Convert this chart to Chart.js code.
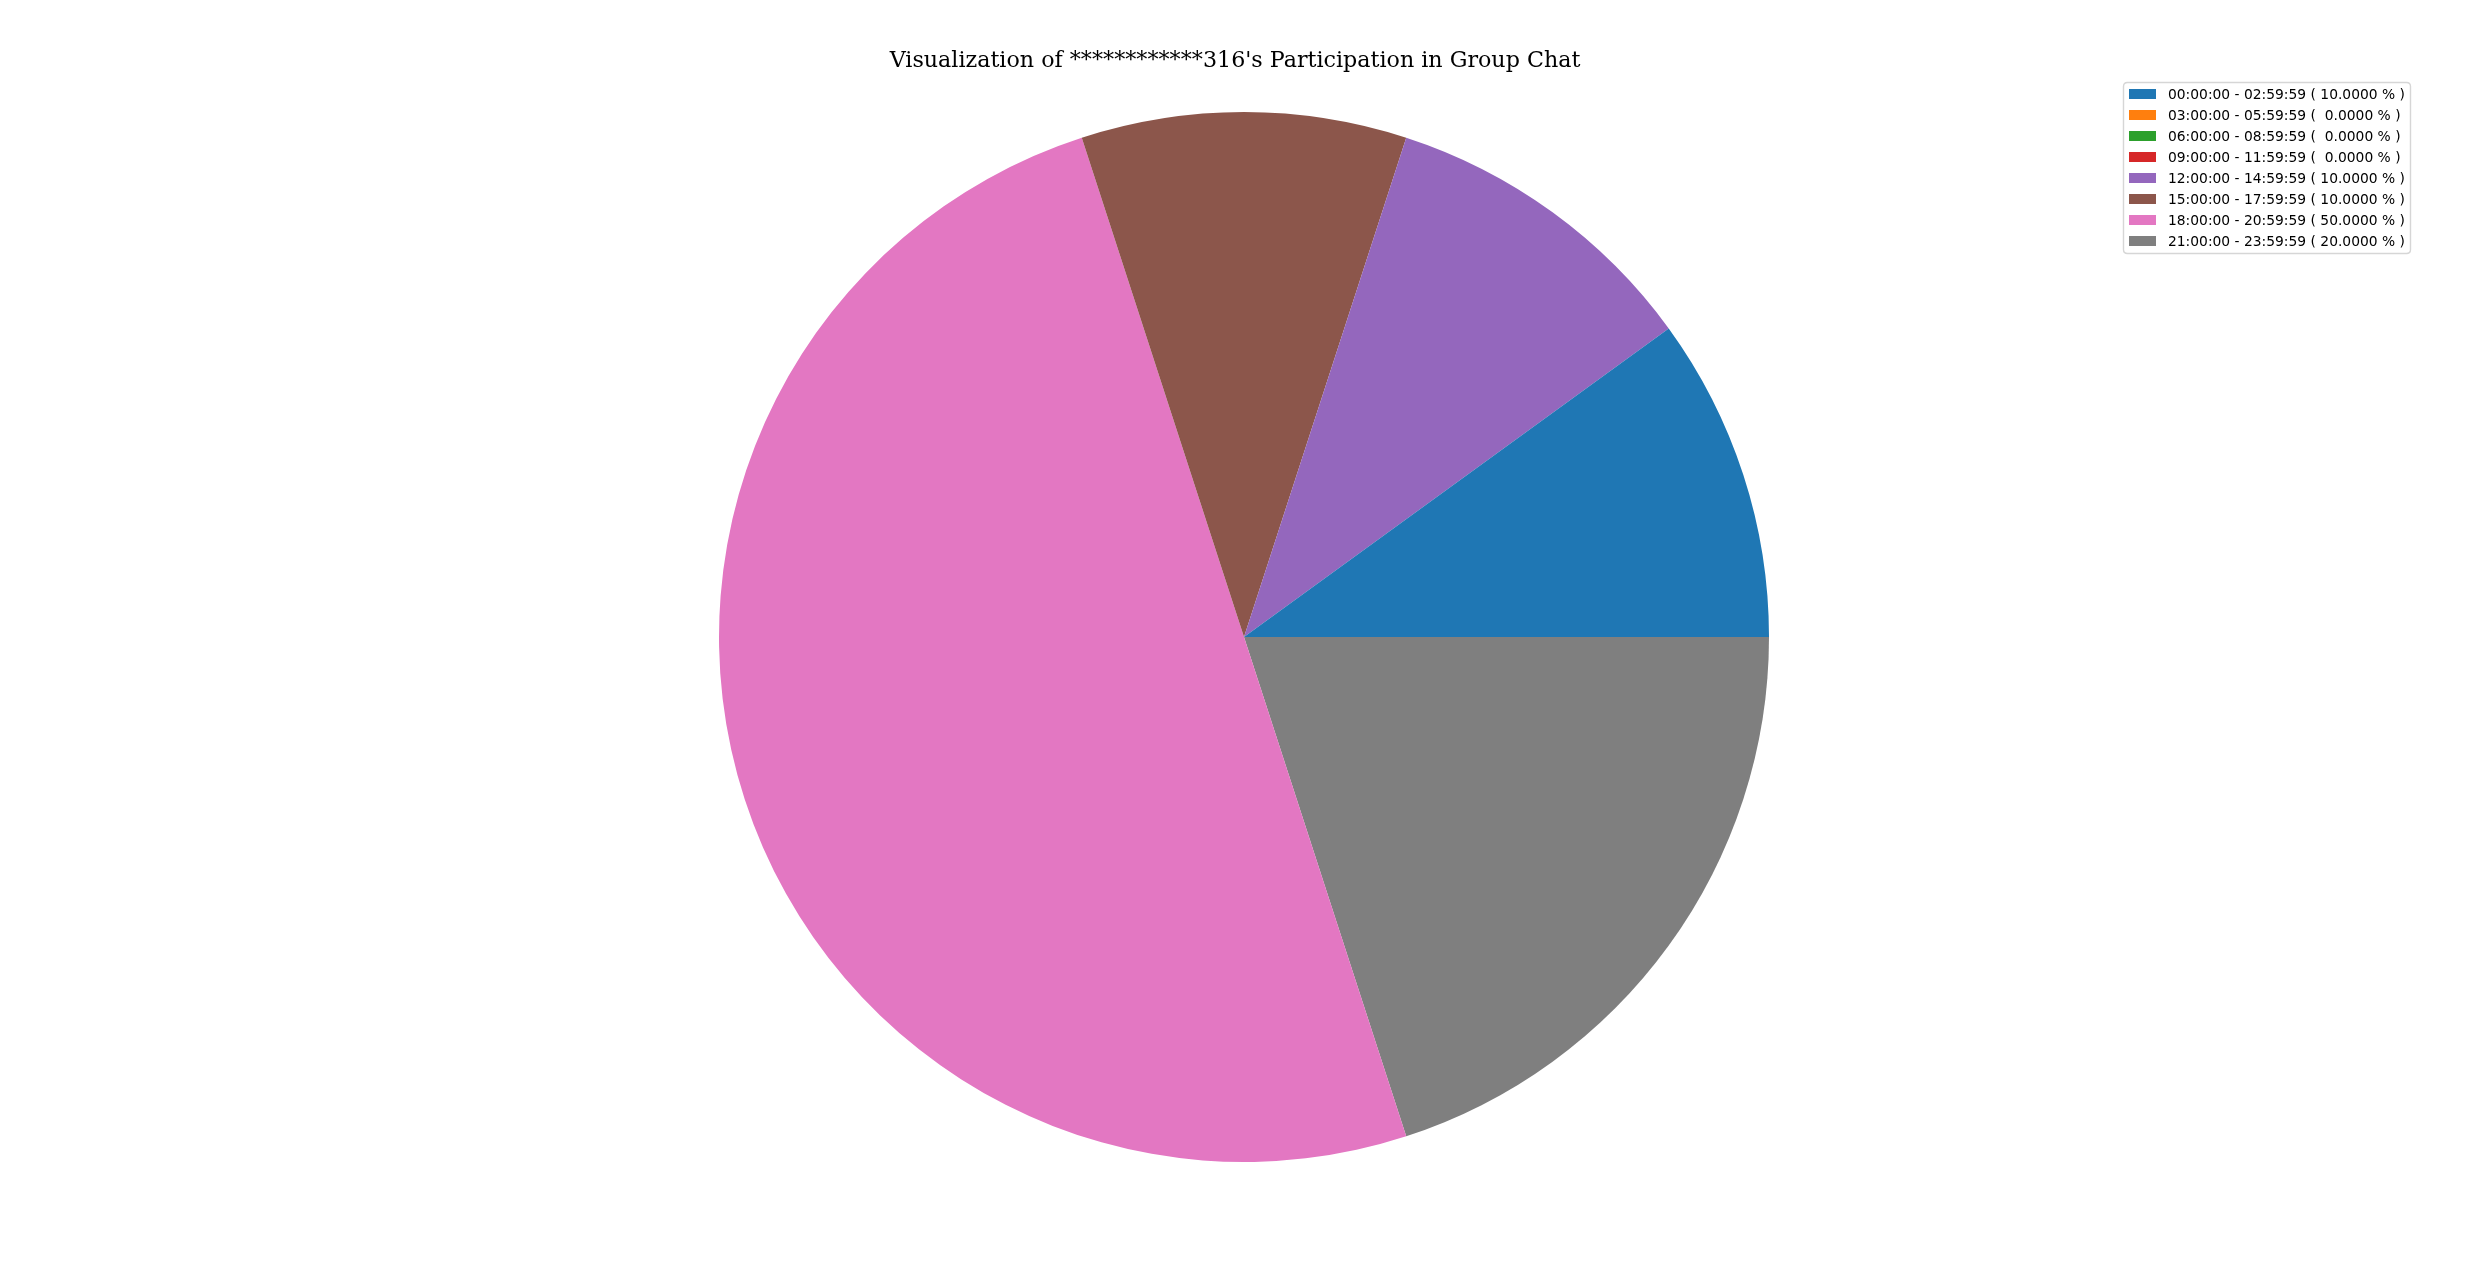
<!DOCTYPE html>
<html>
<head>
<meta charset="utf-8">
<script src="https://cdn.jsdelivr.net/npm/chart.js@4.4.0/dist/chart.umd.min.js"></script>
<style>
  html, body { margin: 0; padding: 0; background: #ffffff; }
  canvas { display: block; }
</style>
</head>
<body>
<canvas id="c" width="2470" height="1270"></canvas>
<script>
const titleText = "Visualization of ************316's Participation in Group Chat";
const categories = [
  "00:00:00 - 02:59:59",
  "03:00:00 - 05:59:59",
  "06:00:00 - 08:59:59",
  "09:00:00 - 11:59:59",
  "12:00:00 - 14:59:59",
  "15:00:00 - 17:59:59",
  "18:00:00 - 20:59:59",
  "21:00:00 - 23:59:59"
];
const percentages = [10, 0, 0, 0, 10, 10, 50, 20];
const colors = ["#1f77b4", "#ff7f0e", "#2ca02c", "#d62728", "#9467bd", "#8c564b", "#e377c2", "#7f7f7f"];

function legendLabel(i) {
  let p = percentages[i].toFixed(4);
  while (p.length < 7) p = " " + p;
  return categories[i] + " ( " + p + " % )";
}

// matplotlib draws counter-clockwise from 3 o'clock; Chart.js draws clockwise,
// so feed the slices in reverse order starting at 3 o'clock.
const revLabels = categories.slice().reverse();
const revValues = percentages.slice().reverse();
const revColors = colors.slice().reverse();

const titlePlugin = {
  id: 'mplTitle',
  afterDraw(chart) {
    const ctx = chart.ctx;
    ctx.save();
    ctx.font = "22.2px 'DejaVu Serif'";
    ctx.fillStyle = "#000000";
    ctx.textAlign = "center";
    ctx.textBaseline = "alphabetic";
    ctx.fillText(titleText, 1235, 67);
    ctx.restore();
  }
};

const legendPlugin = {
  id: 'mplLegend',
  afterDraw(chart) {
    const ctx = chart.ctx;
    ctx.save();
    const x0 = 2123.5, y0 = 82.5, w = 287, h = 171, r = 4;
    ctx.beginPath();
    ctx.moveTo(x0 + r, y0);
    ctx.lineTo(x0 + w - r, y0);
    ctx.quadraticCurveTo(x0 + w, y0, x0 + w, y0 + r);
    ctx.lineTo(x0 + w, y0 + h - r);
    ctx.quadraticCurveTo(x0 + w, y0 + h, x0 + w - r, y0 + h);
    ctx.lineTo(x0 + r, y0 + h);
    ctx.quadraticCurveTo(x0, y0 + h, x0, y0 + h - r);
    ctx.lineTo(x0, y0 + r);
    ctx.quadraticCurveTo(x0, y0, x0 + r, y0);
    ctx.closePath();
    ctx.fillStyle = "rgba(255,255,255,0.8)";
    ctx.fill();
    ctx.strokeStyle = "rgba(204,204,204,0.8)";
    ctx.lineWidth = 1.4;
    ctx.stroke();

    ctx.font = "13.85px 'DejaVu Sans'";
    ctx.textAlign = "left";
    ctx.textBaseline = "alphabetic";
    for (let i = 0; i < categories.length; i++) {
      const yTop = 89 + 21 * i;
      ctx.fillStyle = colors[i];
      ctx.fillRect(2129, yTop, 27, 10);
      ctx.fillStyle = "#000000";
      ctx.fillText(legendLabel(i), 2168, yTop + 10.3);
    }
    ctx.restore();
  }
};

new Chart(document.getElementById('c'), {
  type: 'pie',
  data: {
    labels: revLabels,
    datasets: [{
      data: revValues,
      backgroundColor: revColors,
      borderWidth: 0,
      hoverOffset: 0,
      offset: 0
    }]
  },
  options: {
    responsive: false,
    animation: false,
    devicePixelRatio: 1,
    rotation: 90,
    layout: { padding: { top: 112, bottom: 108, left: 18, right: 0 } },
    plugins: {
      legend: { display: false },
      title: { display: false },
      tooltip: { enabled: false }
    }
  },
  plugins: [titlePlugin, legendPlugin]
});
</script>
</body>
</html>
